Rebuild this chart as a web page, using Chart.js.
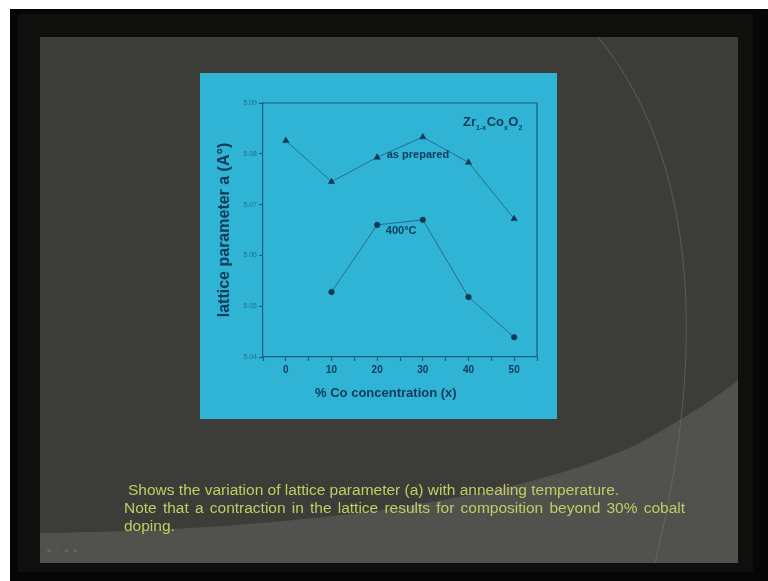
<!DOCTYPE html>
<html>
<head>
<meta charset="utf-8">
<script src="https://cdn.jsdelivr.net/npm/chart.js@4.4.1/dist/chart.umd.min.js"></script>
<style>
  html, body { margin: 0; padding: 0; background: #fff; }
  #wrap { position: relative; width: 768px; height: 581px; overflow: hidden; }
  #c { position: absolute; left: 0; top: 0; }
  .cap {
    position: absolute;
    font-family: "Liberation Sans", Arial, sans-serif;
    font-size: 15.5px;
    line-height: 18px;
    color: #c3cc62;
    white-space: nowrap;
  }
  .cap.just { white-space: normal; text-align: justify; width: 561px; }
</style>
</head>
<body>
<div id="wrap">
  <canvas id="c" width="768" height="581"></canvas>
  <div class="cap" style="left:128px; top:481px;">Shows the variation of lattice parameter (a) with annealing temperature.</div>
  <div class="cap just" style="left:124px; top:499px;">Note that a contraction in the lattice results for composition beyond 30% cobalt doping.</div>
</div>
<script>
// Co content (%) and lattice parameter a (Å) of Zr(1-x)Co(x)O2
const concentration = [0, 10, 20, 30, 40, 50];
const asPrepared    = [5.0826, 5.0745, 5.0793, 5.0833, 5.0783, 5.0672];
const annealed400   = [null, 5.0528, 5.0660, 5.0670, 5.0518, 5.0439];
const yTickValues   = [5.04, 5.05, 5.06, 5.07, 5.08, 5.09];
const xTickLabels   = [0, 10, 20, 30, 40, 50];

const ink = '#123a58';
const axisColor = '#1d5c7a';

function pairs(ys) {
  return concentration.map((x, i) => ({ x: x, y: ys[i] }));
}

// slide backdrop: frame, dark slide with arcs, cyan figure panel
const slideBackdrop = {
  id: 'slideBackdrop',
  beforeDraw(chart) {
    const ctx = chart.ctx;
    ctx.save();
    ctx.fillStyle = '#ffffff';
    ctx.fillRect(0, 0, 768, 581);
    ctx.fillStyle = '#060606';
    ctx.fillRect(10, 9, 758, 572);
    ctx.fillStyle = '#0f0f0d';
    ctx.fillRect(18, 14, 735, 558);

    // slide body
    ctx.fillStyle = '#3c3d39';
    ctx.fillRect(40, 37, 698, 526);

    ctx.beginPath();
    ctx.rect(40, 37, 698, 526);
    ctx.clip();

    // lighter lower band
    ctx.fillStyle = '#51524d';
    ctx.beginPath();
    ctx.moveTo(40, 533);
    ctx.bezierCurveTo(300, 530, 520, 500, 640, 443);
    ctx.bezierCurveTo(690, 415, 720, 395, 738, 380);
    ctx.lineTo(738, 563);
    ctx.lineTo(40, 563);
    ctx.closePath();
    ctx.fill();

    // thin arc on the right
    ctx.strokeStyle = 'rgba(115,117,110,0.5)';
    ctx.lineWidth = 1.1;
    ctx.beginPath();
    ctx.moveTo(598, 37);
    ctx.bezierCurveTo(690, 150, 712, 330, 655, 563);
    ctx.stroke();

    // navigation marks in the corner
    ctx.fillStyle = 'rgba(110,112,106,0.6)';
    ctx.font = '9px "DejaVu Sans", sans-serif';
    ctx.textBaseline = 'middle';
    ctx.fillText('◂  ⁄  ◂  ▸', 46, 551);

    // figure panel
    ctx.fillStyle = '#2fb4d6';
    ctx.fillRect(200, 73, 357, 346);
    ctx.restore();
  },
  beforeDatasetsDraw(chart) {
    // close the frame on top and right
    const a = chart.chartArea;
    const ctx = chart.ctx;
    ctx.save();
    ctx.strokeStyle = axisColor;
    ctx.lineWidth = 1.2;
    ctx.beginPath();
    ctx.moveTo(a.left, a.top);
    ctx.lineTo(a.right, a.top);
    ctx.lineTo(a.right, a.bottom);
    ctx.stroke();
    ctx.restore();
  }
};

// in-plot labels and the x axis title
const plotLabels = {
  id: 'plotLabels',
  afterDatasetsDraw(chart) {
    const ctx = chart.ctx;
    const xs = chart.scales.x, ys = chart.scales.y;
    ctx.save();
    ctx.fillStyle = ink;
    ctx.textBaseline = 'middle';
    ctx.textAlign = 'left';
    ctx.font = 'bold 11px "Liberation Sans", Arial, sans-serif';
    ctx.fillText('as prepared', xs.getPixelForValue(22.1), ys.getPixelForValue(5.0797));
    ctx.fillText('400°C', xs.getPixelForValue(21.9), ys.getPixelForValue(5.0649));

    // Zr(1-x)Co(x)O2 with subscripts
    let x = xs.getPixelForValue(38.8);
    const y = ys.getPixelForValue(5.0862);
    const big = 'bold 13px "Liberation Sans", Arial, sans-serif';
    const small = 'bold 7px "Liberation Sans", Arial, sans-serif';
    const parts = [['Zr', big, 0], ['1-x', small, 6], ['Co', big, 0], ['x', small, 6], ['O', big, 0], ['2', small, 6]];
    parts.forEach(p => {
      ctx.font = p[1];
      ctx.fillText(p[0], x, y + p[2]);
      x += ctx.measureText(p[0]).width + (p[1] === small ? 0.5 : 0);
    });

    // x axis title
    ctx.textAlign = 'center';
    ctx.font = 'bold 13px "Liberation Sans", Arial, sans-serif';
    ctx.fillText('% Co concentration (x)', xs.getPixelForValue(21.9), 393);
    ctx.restore();
  }
};

new Chart(document.getElementById('c'), {
  type: 'line',
  data: {
    datasets: [
      {
        label: 'as prepared',
        data: pairs(asPrepared),
        borderColor: '#2a6c8c',
        borderWidth: 1,
        pointStyle: 'triangle',
        pointRadius: 3.6,
        pointBackgroundColor: '#0f3652',
        pointBorderColor: '#0f3652',
        pointBorderWidth: 0.5,
        tension: 0
      },
      {
        label: '400°C',
        data: pairs(annealed400),
        borderColor: '#2a6c8c',
        borderWidth: 1,
        pointStyle: 'circle',
        pointRadius: 2.8,
        pointBackgroundColor: '#0f3652',
        pointBorderColor: '#0f3652',
        pointBorderWidth: 0.5,
        spanGaps: false,
        tension: 0
      }
    ]
  },
  options: {
    responsive: false,
    animation: false,
    events: [],
    layout: { padding: { left: 215, right: 231, top: 103, bottom: 179 } },
    plugins: {
      legend: { display: false },
      tooltip: { enabled: false }
    },
    scales: {
      x: {
        type: 'linear',
        min: -5,
        max: 55,
        afterFit(s) { s.height = 45; },
        grid: { drawOnChartArea: false, tickLength: 4, tickColor: axisColor, tickWidth: 1.2 },
        border: { color: axisColor, width: 1.2 },
        ticks: {
          stepSize: 5,
          padding: 3,
          color: ink,
          font: { family: '"Liberation Sans", Arial, sans-serif', size: 10, weight: 'bold' },
          callback: v => (xTickLabels.includes(v) ? String(v) : '')
        }
      },
      y: {
        type: 'linear',
        min: 5.04,
        max: 5.09,
        afterFit(s) { s.width = 48; },
        afterBuildTicks(s) { s.ticks = yTickValues.map(v => ({ value: v })); },
        grid: { drawOnChartArea: false, tickLength: 4, tickColor: axisColor, tickWidth: 1.2 },
        border: { color: axisColor, width: 1.2 },
        ticks: {
          padding: 2,
          color: 'rgba(20,60,90,0.6)',
          font: { family: '"Liberation Sans", Arial, sans-serif', size: 7 },
          callback: v => Number(v).toFixed(2)
        },
        title: {
          display: true,
          text: 'lattice parameter a (A°)',
          color: ink,
          padding: { top: 0, bottom: 0 },
          font: { family: '"Liberation Sans", Arial, sans-serif', size: 16, weight: 'bold' }
        }
      }
    }
  },
  plugins: [slideBackdrop, plotLabels]
});
</script>
</body>
</html>
